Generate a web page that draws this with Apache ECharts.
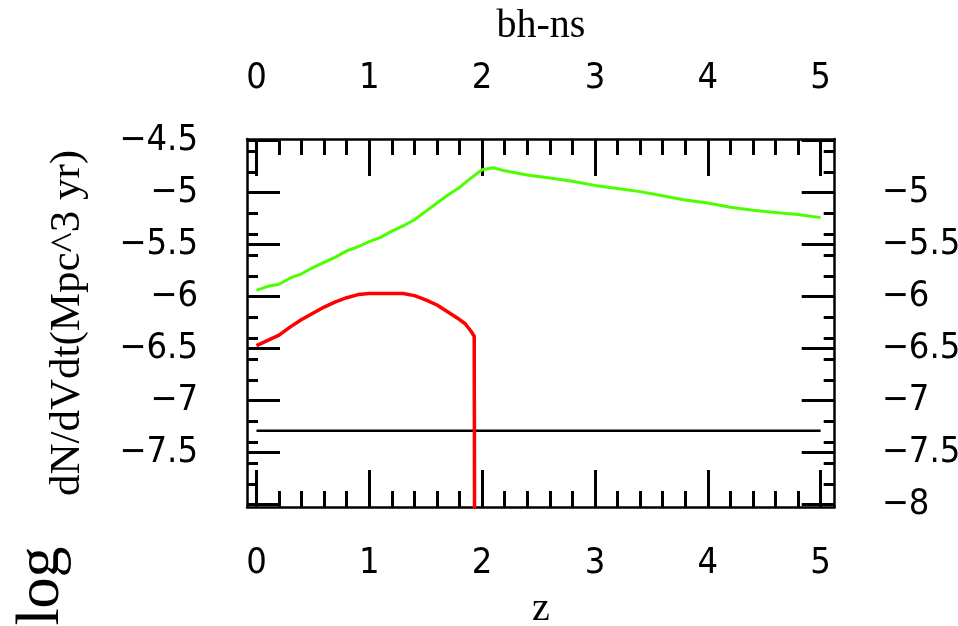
<!DOCTYPE html>
<html>
<head>
<meta charset="utf-8">
<script src="https://cdn.jsdelivr.net/npm/echarts@6/dist/echarts.min.js"></script>
<style>
html,body{margin:0;padding:0;background:#fff;}
#c{width:958px;height:626px;}
</style>
</head>
<body>
<div id="c"></div>
<script>
// ---- data ----
const greenX = [0,0.1,0.2,0.3,0.4,0.5,0.6,0.7,0.8,0.9,1.0,1.1,1.2,1.3,1.4,1.5,1.6,1.7,1.8,1.9,2.0,2.1,2.2,2.4,2.6,2.8,3.0,3.2,3.4,3.6,3.8,4.0,4.2,4.4,4.6,4.8,5.0];
const greenY = [-5.94,-5.90,-5.88,-5.82,-5.78,-5.72,-5.67,-5.62,-5.56,-5.52,-5.47,-5.43,-5.37,-5.32,-5.26,-5.18,-5.10,-5.02,-4.95,-4.86,-4.78,-4.76,-4.79,-4.83,-4.86,-4.89,-4.93,-4.96,-4.99,-5.03,-5.07,-5.10,-5.14,-5.17,-5.19,-5.21,-5.24];
const redX = [0,0.1,0.2,0.3,0.4,0.5,0.6,0.7,0.8,0.9,1.0,1.1,1.2,1.3,1.4,1.5,1.6,1.7,1.8,1.85,1.9,1.93,1.935];
const redY = [-6.47,-6.42,-6.37,-6.29,-6.22,-6.16,-6.10,-6.05,-6.01,-5.98,-5.97,-5.97,-5.97,-5.97,-5.99,-6.03,-6.08,-6.15,-6.22,-6.26,-6.33,-6.38,-9.5];
const blackX = [0,5];
const blackY = [-7.29,-7.29];

const xMajor = [0,1,2,3,4,5];
const xMinor = [0.2,0.4,0.6,0.8,1.2,1.4,1.6,1.8,2.2,2.4,2.6,2.8,3.2,3.4,3.6,3.8,4.2,4.4,4.6,4.8];
const yMajor = [-4.5,-5,-5.5,-6,-6.5,-7,-7.5,-8];
const yLabelsLeft = [-4.5,-5,-5.5,-6,-6.5,-7,-7.5];
const yLabelsRight = [-5,-5.5,-6,-6.5,-7,-7.5,-8];
const yMinor = [-4.6,-4.8,-5.2,-5.4,-5.6,-5.8,-6.2,-6.4,-6.6,-6.8,-7.2,-7.4,-7.6,-7.8];

const xTitleTop = 'bh-ns';
const xTitleBottom = 'z';
const yTitle = 'dN/dVdt(Mpc^3 yr)';
const sideText = 'log';

// ---- chart ----
const XMIN = -0.084, XMAX = 5.125, YMIN = -8.022, YMAX = -4.484;
const numFont = '"Liberation Sans Narrow","DejaVu Sans Condensed","Liberation Sans",sans-serif';
const serif = '"Liberation Serif","DejaVu Serif",serif';
const fmt = v => String(v).replace('-', '\u2212');
const black = '#000';

function xAx(pos, major, withName) {
  return {
    type: 'value', position: pos, min: XMIN, max: XMAX,
    axisLine: {show: major, onZero: false, lineStyle: {color: black, width: 2.5}},
    axisTick: {show: true, inside: true, length: major ? 37 : 16,
      customValues: major ? xMajor : xMinor, lineStyle: {color: black, width: 3}},
    axisLabel: major ? {show: true, customValues: xMajor, formatter: fmt, color: black,
      fontFamily: numFont, fontSize: 36, margin: pos === 'top' ? 42 : 39} : {show: false},
    splitLine: {show: false},
    name: withName ? (pos === 'top' ? xTitleTop : xTitleBottom) : '',
    nameLocation: 'middle',
    nameGap: pos === 'top' ? 93 : 82,
    nameTextStyle: {fontFamily: serif, fontSize: 40, color: black}
  };
}
function yAx(pos, major, withName) {
  return {
    type: 'value', position: pos, min: YMIN, max: YMAX,
    axisLine: {show: major, onZero: false, lineStyle: {color: black, width: 2.5}},
    axisTick: {show: true, inside: true, length: major ? 33 : 11,
      customValues: major ? yMajor : yMinor, lineStyle: {color: black, width: 3}},
    axisLabel: major ? {show: true, customValues: pos === 'left' ? yLabelsLeft : yLabelsRight,
      formatter: fmt, color: black, fontFamily: numFont, fontSize: 36,
      margin: pos === 'left' ? 49 : 47, padding: [0, 0, 10, 0]} : {show: false},
    splitLine: {show: false},
    name: withName ? yTitle : '',
    nameLocation: 'middle',
    nameGap: 158,
    nameTextStyle: {fontFamily: serif, fontSize: 43, color: black}
  };
}

const chart = echarts.init(document.getElementById('c'), null, {renderer: 'canvas'});
chart.setOption({
  backgroundColor: '#fff',
  animation: false,
  grid: {left: 247, right: 123.3, top: 139, bottom: 119, containLabel: false, outerBoundsMode: 'none'},
  xAxis: [xAx('bottom', true, true), xAx('bottom', false, false), xAx('top', true, true), xAx('top', false, false)],
  yAxis: [yAx('left', true, true), yAx('left', false, false), yAx('right', true, false), yAx('right', false, false)],
  graphic: [{
    type: 'text', x: 42, y: 586, rotation: Math.PI / 2,
    style: {text: sideText, font: '62px ' + serif, fill: black, align: 'center', verticalAlign: 'middle'}
  }],
  series: [
    {type: 'line', xAxisIndex: 0, yAxisIndex: 0, data: greenX.map((x, i) => [x, greenY[i]]),
      showSymbol: false, clip: true, lineStyle: {color: '#4cff00', width: 3}, z: 3},
    {type: 'line', xAxisIndex: 0, yAxisIndex: 0, data: redX.map((x, i) => [x, redY[i]]),
      showSymbol: false, clip: true, lineStyle: {color: '#ff0000', width: 3.5}, z: 3},
    {type: 'line', xAxisIndex: 0, yAxisIndex: 0, data: blackX.map((x, i) => [x, blackY[i]]),
      showSymbol: false, clip: true, lineStyle: {color: black, width: 2.5}, z: 2}
  ]
});
</script>
</body>
</html>
